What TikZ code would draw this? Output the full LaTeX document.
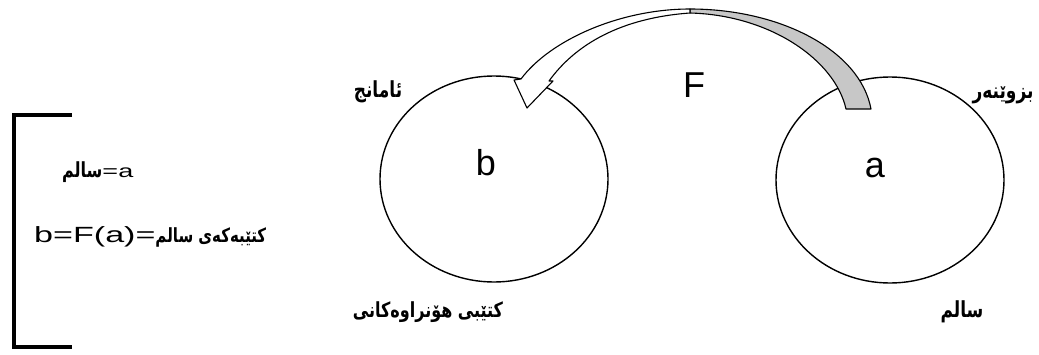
\documentclass[tikz,border=0pt]{standalone}
\usepackage{fontspec}
\setmainfont{Liberation Sans}
\newfontfamily\arabicfont[Script=Arabic]{DejaVu Sans}
\TeXXeTstate=1
\usetikzlibrary{shapes.geometric}
\newcommand{\ku}[1]{\scalebox{1}[1.3]{\arabicfont\bfseries\beginR #1\endR}}

\begin{document}
\begin{tikzpicture}[x=1pt, y=-1pt,
        setshape/.style={ellipse, draw, line width=1.4pt, minimum width=228pt, minimum height=206pt, inner sep=0pt},
        letter/.style={font=\fontsize{36}{36}\selectfont, inner sep=0pt},
        kulabel/.style={font=\fontsize{17}{17}\selectfont, inner sep=0pt},
        eqtext/.style={inner sep=0pt, anchor=west},
        band/.style={draw, line width=1.1pt, line join=round}]
        \useasboundingbox (0,0) rectangle (1039,354);

        % the two sets
        \node (setb) [setshape] at (494,179) {};
        \node (seta) [setshape] at (890,180) {};
        \node (lb) [letter] at (486,163) {b};
        \node (la) [letter] at (875,168) {a};
        \node (lf) [letter] at (694,85) {F};

        % labels round the sets
        \node (goal) [kulabel] at (378,92) {\ku{ئامانج}};
        \node (mover) [kulabel] at (1003,95) {\ku{بزوێنەر}};
        \node (books) [kulabel, font=\fontsize{16}{16}\selectfont] at (428,312) {\ku{کتێبی هۆنراوەکانی}};
        \node (salim) [kulabel] at (962,312) {\ku{سالم}};

        % curved arrow F: back (grey) and front (white) parts
        \draw[band, fill=black!22] (690,9) .. controls (780,9) and (860,50) .. (871,109)
            -- (846,109) .. controls (835,60) and (770,15) .. (690,13) -- cycle;
        \draw[band, fill=white] (521,79) .. controls (550,40) and (620,9) .. (690,9)
            -- (690,13) .. controls (620,18) and (575,45) .. (549,81)
            -- (553,81) -- (527,108) -- (514,80) -- cycle;

        % bracket with the equations
        \draw[line width=3.2pt] (72,115) -- (14,115) -- (14,347) -- (72,347);
        \node (eq1) [eqtext, font=\fontsize{18}{18}\selectfont] at (62,172)
            {{\fontsize{16}{16}\selectfont\ku{سالم}}\scalebox{1.5}[1]{=a}};
        \node (eq2) [eqtext, font=\fontsize{22}{22}\selectfont] at (34,237)
            {\scalebox{1.55}[1]{b=F(a)=}{\fontsize{15}{15}\selectfont\ku{کتێبەکەی سالم}}};
    \end{tikzpicture}
\end{document}
